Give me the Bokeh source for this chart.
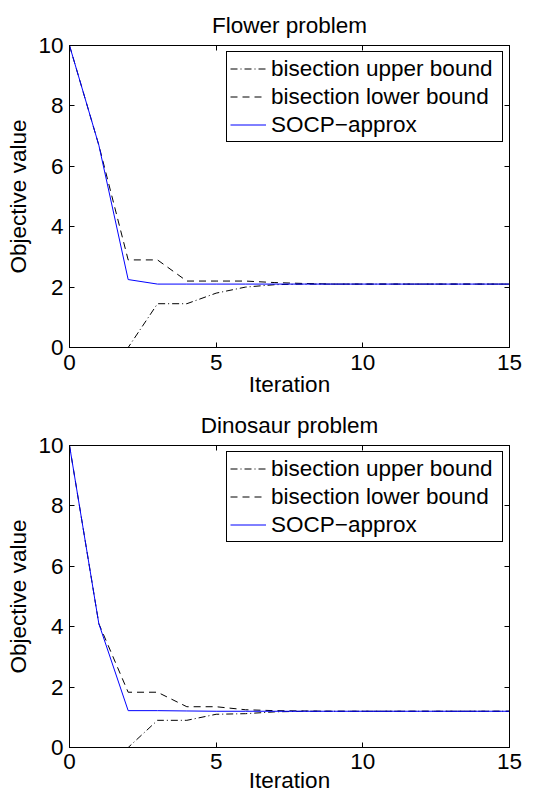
from bokeh.plotting import figure
from bokeh.layouts import column
from bokeh.models import LinearAxis, Legend, LegendItem, FixedTicker, CustomJSTickFormatter, Range1d
from bokeh.embed import file_html
from bokeh.resources import INLINE

iterations = list(range(16))

flower_upper = [0, 0, 0, 1.45, 1.45, 1.8, 2.0, 2.08, 2.1, 2.1, 2.1, 2.1, 2.1, 2.1, 2.1, 2.1]
flower_lower = [10, 6.7, 2.9, 2.9, 2.2, 2.2, 2.2, 2.15, 2.12, 2.1, 2.1, 2.1, 2.1, 2.1, 2.1, 2.1]
flower_socp = [10, 6.7, 2.25, 2.1, 2.1, 2.1, 2.1, 2.1, 2.1, 2.1, 2.1, 2.1, 2.1, 2.1, 2.1, 2.1]

dino_upper = [0, 0, 0, 0.9, 0.9, 1.1, 1.12, 1.18, 1.2, 1.2, 1.2, 1.2, 1.2, 1.2, 1.2, 1.2]
dino_lower = [10, 4.1, 1.83, 1.83, 1.35, 1.35, 1.25, 1.22, 1.21, 1.2, 1.2, 1.2, 1.2, 1.2, 1.2, 1.2]
dino_socp = [10, 4.1, 1.22, 1.22, 1.21, 1.2, 1.2, 1.2, 1.2, 1.2, 1.2, 1.2, 1.2, 1.2, 1.2, 1.2]

x_ticks = [0, 5, 10, 15]
y_ticks = [0, 2, 4, 6, 8, 10]
legend_labels = ["bisection upper bound", "bisection lower bound", "SOCP\u2212approx"]

FONT = "Liberation Sans"
FS = "22.5px"


def make_plot(title, upper, lower, socp, top, bottom, tick_standoff, label_standoff):
    p = figure(frame_width=440, frame_height=302, output_backend="svg", toolbar_location=None,
               x_range=Range1d(0, 15), y_range=Range1d(0, 10),
               min_border_left=69, min_border_right=29, min_border_top=top,
               min_border_bottom=bottom, x_axis_location=None, y_axis_location=None)
    p.title.text = title
    p.title.align = "center"
    p.title.text_font = FONT
    p.title.text_font_size = FS
    p.title.text_font_style = "normal"
    p.title.text_color = "black"
    p.title.standoff = 15
    p.title.offset = 0
    p.xgrid.visible = False
    p.ygrid.visible = False
    p.outline_line_color = "black"
    p.outline_line_width = 1
    p.outline_line_alpha = 1

    for loc, is_x, labeled in [("below", True, True), ("above", True, False),
                               ("left", False, True), ("right", False, False)]:
        ax = LinearAxis(ticker=FixedTicker(ticks=x_ticks if is_x else y_ticks))
        ax.major_tick_in = 5
        ax.major_tick_out = 0
        ax.minor_tick_line_color = None
        ax.axis_line_color = "black"
        ax.major_tick_line_color = "black"
        ax.major_label_text_font = FONT
        ax.major_label_text_font_size = FS
        ax.major_label_text_color = "black"
        if labeled:
            if is_x:
                ax.major_label_standoff = tick_standoff
                ax.axis_label = "Iteration"
                ax.axis_label_standoff = label_standoff
            else:
                ax.major_label_standoff = 6
                ax.axis_label = "Objective value"
                ax.axis_label_standoff = 4
            ax.axis_label_text_font = FONT
            ax.axis_label_text_font_size = FS
            ax.axis_label_text_font_style = "normal"
            ax.axis_label_text_color = "black"
        else:
            ax.formatter = CustomJSTickFormatter(code="return ''")
            ax.major_label_standoff = 0
        p.add_layout(ax, loc)

    r1 = p.line(iterations, upper, line_color="black", line_width=1, line_dash="7 3 1 3")
    r2 = p.line(iterations, lower, line_color="black", line_width=1, line_dash="7 5")
    r3 = p.line(iterations, socp, line_color="#0000ff", line_width=1)

    legend = Legend(items=[LegendItem(label=legend_labels[0], renderers=[r1]),
                           LegendItem(label=legend_labels[1], renderers=[r2]),
                           LegendItem(label=legend_labels[2], renderers=[r3])],
                    location="top_right")
    legend.margin = 6
    legend.padding = 3
    legend.spacing = 1
    legend.glyph_width = 36
    legend.glyph_height = 27
    legend.label_height = 27
    legend.label_width = 228
    legend.label_standoff = 5
    legend.label_text_font = FONT
    legend.label_text_font_size = FS
    legend.label_text_color = "black"
    legend.border_line_color = "black"
    legend.border_line_width = 1
    legend.border_line_alpha = 1
    legend.background_fill_alpha = 1
    p.add_layout(legend, "center")
    return p


p1 = make_plot("Flower problem", flower_upper, flower_lower, flower_socp, 45, 54, 7, -1)
p2 = make_plot("Dinosaur problem", dino_upper, dino_lower, dino_socp, 44, 51, 6, -4)
p = column(p1, p2, spacing=0)

open("out.html", "w").write(file_html(p, INLINE))
